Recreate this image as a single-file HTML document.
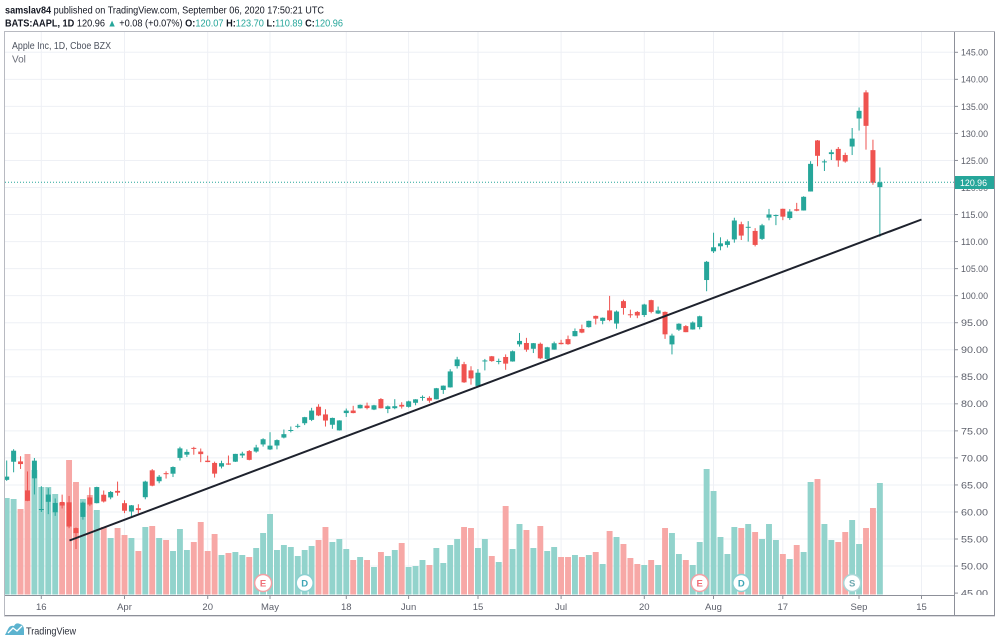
<!DOCTYPE html>
<html>
<head>
<meta charset="utf-8">
<style>
html,body{margin:0;padding:0;background:#fff;}
svg{display:block;font-family:"Liberation Sans",sans-serif;}
</style>
</head>
<body>
<svg id="s" width="1000" height="644" viewBox="0 0 1000 644" xmlns="http://www.w3.org/2000/svg">
<defs>
<clipPath id="pc"><rect x="5" y="32" width="949" height="563"/></clipPath>
<clipPath id="ac"><rect x="955" y="32" width="40" height="563"/></clipPath>
</defs>
<rect x="0" y="0" width="1000" height="644" fill="#fff"/>
<g id="grid"></g>
<g id="vol" clip-path="url(#pc)"></g>
<g id="marks"></g>
<g id="cand" clip-path="url(#pc)"></g>
<line x1="69.5" y1="540.5" x2="921.5" y2="219.5" stroke="#1e222d" stroke-width="2"/>
<line x1="5" y1="182.3" x2="954" y2="182.3" stroke="#26a69a" stroke-width="1" stroke-dasharray="1,2"/>
<g id="axis" clip-path="url(#ac)"></g>
<!-- frame -->
<rect x="4.5" y="31.5" width="990" height="584.5" fill="none" stroke="#b8bac1" stroke-width="1"/>
<line x1="954.5" y1="32" x2="954.5" y2="616" stroke="#8d9099" stroke-width="1"/>
<line x1="5" y1="595.5" x2="954" y2="595.5" stroke="#8d9099" stroke-width="1"/>
<line x1="5" y1="615.5" x2="995" y2="615.5" stroke="#8d9099" stroke-width="1"/>
<line x1="994.5" y1="32" x2="994.5" y2="616" stroke="#8d9099" stroke-width="1"/>
<g id="time"></g>
<!-- last price label -->
<rect x="955" y="176" width="39" height="13" fill="#26a69a"/>
<text x="960" y="186" font-size="9.5" fill="#fff" textLength="27" lengthAdjust="spacingAndGlyphs">120.96</text>
<!-- header -->
<text x="5" y="13.3" font-size="10" fill="#131722" textLength="319" lengthAdjust="spacingAndGlyphs"><tspan font-weight="bold">samslav84</tspan> published on TradingView.com, September 06, 2020 17:50:21 UTC</text>
<text x="5" y="26.3" font-size="10" fill="#131722" textLength="338" lengthAdjust="spacingAndGlyphs"><tspan font-weight="bold">BATS:AAPL, 1D</tspan>  120.96 <tspan fill="#26a69a">▲</tspan> +0.08 (+0.07%) <tspan font-weight="bold">O:</tspan><tspan fill="#26a69a">120.07</tspan> <tspan font-weight="bold">H:</tspan><tspan fill="#26a69a">123.70</tspan> <tspan font-weight="bold">L:</tspan><tspan fill="#26a69a">110.89</tspan> <tspan font-weight="bold">C:</tspan><tspan fill="#26a69a">120.96</tspan></text>
<text x="12" y="49" font-size="10" fill="#4c525e" textLength="99" lengthAdjust="spacingAndGlyphs">Apple Inc, 1D, Cboe BZX</text>
<text x="12" y="62.5" font-size="10" fill="#6a6d78">Vol</text>
<!-- logo -->
<g transform="translate(5,622)">
<path d="M0 13 L3 7 Q5 3 9 4 Q11 0 15 2 Q19 3 19 8 L19 13 Z" fill="#5cb3cf"/>
<path d="M3 11 L8 6 L12 9 L17 4" fill="none" stroke="#fff" stroke-width="1.3"/>
</g>
<text x="26" y="634.5" font-size="10.5" fill="#2a2e39" textLength="50" lengthAdjust="spacingAndGlyphs">TradingView</text>
</svg>
<script>
(function(){
var NS="http://www.w3.org/2000/svg";
function el(tag,a,p){var e=document.createElementNS(NS,tag);for(var k in a)e.setAttribute(k,a[k]);p.appendChild(e);return e;}
function Y(p){return 52.3+(145-p)*5.408;}
function X(i){return 124.5+6.93*i;}
var D=[
[65.94,69.52,65.75,66.54],[69.29,71.61,67.34,71.33],[69.35,70.31,67.96,68.86],[63.99,67.5,62.0,62.06],[66.22,69.98,63.24,69.49],
[60.49,64.77,60.0,60.55],[61.88,64.4,59.6,63.22],[59.94,62.5,59.28,61.67],[61.85,63.21,60.65,61.19],[61.79,62.96,57.0,57.31],
[57.02,57.13,53.15,56.09],[59.09,61.92,58.58,61.72],[62.69,64.56,61.08,61.38],[61.63,64.67,61.59,64.61],[63.19,63.97,61.76,61.94],
[62.69,63.88,62.35,63.70],[63.9,65.62,63.0,63.57],
[61.63,62.18,59.78,60.23],[60.09,61.29,59.22,61.23],[60.7,61.43,59.74,60.35],[62.73,65.78,62.35,65.62],[67.7,67.93,64.75,64.86],
[65.68,66.84,65.31,66.52],[67.18,67.52,66.18,66.99],[67.08,68.43,66.46,68.31],[70.0,72.06,69.51,71.76],[70.6,71.58,70.16,71.11],
[71.85,72.05,70.59,71.67],[71.17,71.74,69.21,70.70],[69.49,70.42,69.21,69.23],[69.07,69.31,66.36,67.09],[68.4,69.48,68.05,69.03],
[68.97,70.44,68.72,68.76],[69.3,70.75,69.25,70.74],[70.45,71.14,69.99,70.79],[71.27,71.46,69.55,69.64],[71.18,72.42,70.97,71.93],
[72.49,73.63,72.09,73.45],
[71.56,74.75,71.46,72.27],[72.29,73.42,71.58,73.29],[73.76,75.25,73.61,74.39],[75.11,75.81,74.72,75.16],[75.8,76.29,75.49,75.93],
[76.41,77.59,76.07,77.53],[77.03,79.26,76.81,78.75],[79.46,79.92,77.73,77.85],[78.04,78.99,75.8,76.91],[76.13,77.45,75.38,77.39],
[75.09,76.97,75.05,76.93],[78.29,79.13,77.58,78.74],[78.76,79.63,78.25,78.29],[79.17,79.88,79.13,79.81],[79.67,80.22,78.97,79.21],
[78.94,79.81,78.84,79.72],[80.88,81.06,79.13,79.18],[79.04,79.68,78.27,79.53],[79.19,80.86,79.0,79.56],[79.81,80.29,79.12,79.49],
[79.44,80.59,79.3,80.46],[80.19,80.86,79.73,80.83],[81.17,81.55,80.57,81.28],[81.1,81.4,80.2,80.58],[80.84,82.94,80.81,82.88],
[82.56,83.4,81.83,83.36],[83.04,86.4,83.0,85.99],[86.97,88.69,86.52,88.21],[87.33,87.76,83.87,83.97],[86.18,86.95,83.56,84.70],
[83.31,86.42,83.14,85.75],[87.87,88.3,86.18,88.02],[88.79,88.85,87.77,87.90],[87.85,88.36,87.31,87.93],[88.66,89.14,86.29,87.43],
[87.83,89.86,87.79,89.72],[91.0,93.1,90.57,91.63],[91.25,92.2,89.63,90.01],[90.18,91.25,89.39,91.21],[91.1,91.33,88.25,88.41],
[88.31,90.54,87.82,90.45],[90.02,91.5,90.0,91.2],
[91.28,91.84,90.98,91.03],[91.96,92.62,90.91,91.03],[92.5,93.94,92.47,93.46],[93.85,94.65,93.06,93.17],[94.18,95.38,94.09,95.34],
[96.26,96.32,94.67,95.75],[95.34,95.98,94.71,95.92],[97.27,99.96,95.26,95.48],[94.84,97.26,93.88,97.06],[98.99,99.25,96.49,97.72],
[96.56,97.41,95.91,96.52],[96.99,97.15,95.84,96.33],[96.42,98.5,96.06,98.36],[99.17,99.25,96.74,97.0],[96.69,97.98,96.6,97.27],
[97.0,97.08,92.01,92.85],[90.99,92.97,89.14,92.62],[93.71,94.9,93.48,94.81],[94.37,94.55,93.25,93.25],[93.75,95.23,93.71,95.04],
[94.19,96.3,93.77,96.19],[102.89,106.42,100.82,106.26],
[108.2,111.64,107.89,108.94],[109.13,110.79,108.39,109.67],[109.38,110.39,108.9,110.06],[110.4,114.41,109.8,113.9],[113.21,113.68,110.29,111.11],
[112.6,113.78,110.0,112.73],[111.97,112.48,109.11,109.38],[110.5,113.28,110.3,113.01],[114.43,116.04,113.93,115.01],[114.83,115.0,113.04,114.91],
[116.06,116.09,113.96,114.61],[114.35,116.0,114.01,115.56],[115.98,117.16,115.61,115.71],[115.75,118.39,115.73,118.28],[119.26,124.87,119.25,124.37],
[128.7,128.79,123.94,125.86],[124.7,125.18,123.05,124.83],[126.18,126.99,125.08,126.52],[127.14,127.49,123.83,125.01],[126.01,126.44,124.58,124.81],
[127.58,131.0,126.0,129.04],[132.76,134.8,130.53,134.18],[137.59,137.98,127.0,131.4],[126.91,128.84,120.5,120.88],[120.07,123.7,110.89,120.96]
];
var V=[498,499,509,454,470,487,487,494,503,460,482,499,495,510,527,538,528,
535,538,551,527,526,538,540,551,529,550,542,522,551,534,555,553,552,555,557,548,533,
514,550,545,547,556,550,546,540,527,542,539,549,560,557,560,567,552,556,550,543,
567,566,560,565,548,563,545,539,527,528,548,539,556,562,506,549,524,530,548,526,551,547,
557,557,555,557,555,552,564,531,537,544,558,564,565,560,565,528,533,554,560,565,542,469,
491,537,554,527,528,524,532,539,524,540,554,559,545,552,482,479,524,540,542,532,520,544,528,508,483];
var grid=document.getElementById('grid'),vol=document.getElementById('vol'),cand=document.getElementById('cand'),axis=document.getElementById('axis'),time=document.getElementById('time'),marks=document.getElementById('marks');
var G='#26a69a',R='#ef5350',GV='#92d3cc',RV='#f7a8a6';
// grid horizontal + price labels
for(var p=45;p<=145;p+=5){
  var y=Y(p);
  if(p>45) el('line',{x1:5,x2:954,y1:y,y2:y,stroke:'#eef0f5','stroke-width':1},grid);
  el('line',{x1:954,x2:958,y1:y,y2:y,stroke:'#8d9099','stroke-width':1},axis);
  var t=el('text',{x:961,y:y+3.4,'font-size':9.5,fill:'#5d606b',textLength:27,lengthAdjust:'spacingAndGlyphs'},axis);
  t.textContent=p.toFixed(2);
}
// time grid + labels
var TL=[[41.3,'16'],[124.5,'Apr'],[207.7,'20'],[270,'May'],[346.3,'18'],[408.6,'Jun'],[478,'15'],[561.1,'Jul'],[644.3,'20'],[713.5,'Aug'],[782.8,'17'],[859,'Sep'],[921.5,'15']];
TL.forEach(function(a){
  el('line',{x1:a[0],x2:a[0],y1:32,y2:595,stroke:'#eef0f5','stroke-width':1},grid);
  el('line',{x1:a[0],x2:a[0],y1:595,y2:599,stroke:'#8d9099','stroke-width':1},time);
  var t=el('text',{x:a[0],y:610,'font-size':9.5,fill:'#5d606b','text-anchor':'middle'},time);
  t.textContent=a[1];
});
// volume + candles
for(var k=0;k<D.length;k++){
  var i=k-17,x=X(i),d=D[k],up=d[3]>=d[0];
  var vt=V[k];
  el('rect',{x:x-2.95,y:vt,width:5.9,height:594.5-vt,fill:up?GV:RV},vol);
  var c=up?G:R;
  el('line',{x1:x,x2:x,y1:Y(d[1]),y2:Y(d[2]),stroke:c,'stroke-width':1},cand);
  var y1=Y(Math.max(d[0],d[3])),y2=Y(Math.min(d[0],d[3]));
  var h=Math.max(1,y2-y1);
  el('rect',{x:x-2.5,y:y1,width:5,height:h,fill:c},cand);
}
// event markers
var M=[[263.1,'E','#f2a0a4','#ef6f78'],[304.7,'D','#8ccfd0','#3ea5b5'],[699.7,'E','#f2a0a4','#ef6f78'],[741.3,'D','#8ccfd0','#3ea5b5'],[852.2,'S','#a9d6d6','#6fa9b0']];
M.forEach(function(m){
  el('circle',{cx:m[0],cy:583,r:8.5,fill:'#fff',stroke:m[2],'stroke-width':1.5},marks);
  var t=el('text',{x:m[0],y:586.5,'font-size':9.5,fill:m[3],'text-anchor':'middle','font-weight':'bold'},marks);
  t.textContent=m[1];
});
})();
</script>
</body>
</html>
